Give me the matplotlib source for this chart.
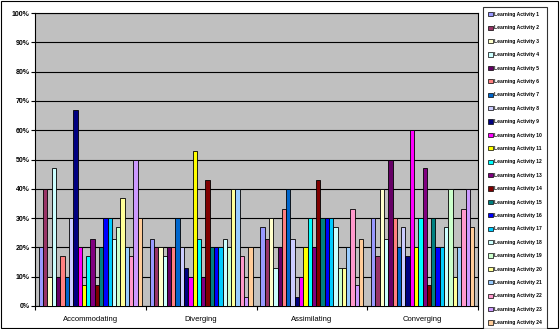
import numpy as np
import matplotlib
matplotlib.use("Agg")
import matplotlib.pyplot as plt
from matplotlib.patches import Patch, Rectangle

categories = ["Accommodating", "Diverging", "Assimilating", "Converging"]
series_names = ["Learning Activity %d" % i for i in range(1, 25)]

# values in % for each activity, order: Accommodating, Diverging, Assimilating, Converging
values = [
    [20, 23, 27, 30],
    [40, 20, 23, 17],
    [10, 20, 30, 40],
    [47, 17, 13, 23],
    [10, 20, 20, 50],
    [17, 20, 33, 30],
    [10, 30, 40, 20],
    [30, 20, 23, 27],
    [67, 13, 3, 17],
    [20, 10, 10, 60],
    [7, 53, 20, 20],
    [17, 23, 30, 30],
    [23, 10, 20, 47],
    [7, 43, 43, 7],
    [20, 20, 30, 30],
    [30, 20, 30, 20],
    [30, 20, 30, 20],
    [23, 23, 27, 27],
    [27, 20, 13, 40],
    [37, 40, 13, 10],
    [20, 40, 20, 20],
    [17, 17, 33, 33],
    [50, 3, 7, 40],
    [30, 20, 23, 27],
]

colors = ["#9999FF", "#993366", "#FFFFCC", "#CCFFFF", "#660066", "#FF8080",
          "#0066CC", "#CCCCFF", "#000080", "#FF00FF", "#FFFF00", "#00FFFF",
          "#800080", "#800000", "#008080", "#0000FF", "#00CCFF", "#CCFFFF",
          "#CCFFCC", "#FFFF99", "#99CCFF", "#FF99CC", "#CC99FF", "#FFCC99"]

fig = plt.figure(figsize=(5.6, 3.29), dpi=100)
W, H = 560, 329
ax = fig.add_axes([35 / W, 1 - 306 / H, (478 - 35) / W, (306 - 13) / H])
ax.set_facecolor("#C0C0C0")

x = np.arange(len(categories))
n = len(series_names)
group = 0.93
bw = group / n
for i in range(n):
    ax.bar(x - group / 2 + bw * (i + 0.5), values[i], width=bw, color=colors[i],
           edgecolor="black", linewidth=0.6, label=series_names[i], zorder=3)

ax.set_xlim(-0.5, len(categories) - 0.5)
ax.set_ylim(0, 100)
ax.set_yticks(np.arange(0, 101, 10))
ax.set_yticklabels(["%d%%" % v for v in range(0, 101, 10)], fontsize=5, fontweight="bold",
                   family="Liberation Sans")
ax.yaxis.grid(True, color="black", linewidth=0.8, zorder=0)
ax.set_xticks(x)
ax.set_xticklabels(categories, fontsize=5.5, family="Liberation Sans")
ax.set_xticks(np.arange(-0.5, len(categories), 1), minor=True)
ax.tick_params(axis="x", which="major", length=0, pad=7)
ax.tick_params(axis="x", which="minor", length=3, width=0.8)
ax.tick_params(axis="y", length=3, width=0.8, pad=1)
for s in ax.spines.values():
    s.set_linewidth(0.8)

handles = [Patch(facecolor=colors[i], edgecolor="black", linewidth=0.5) for i in range(n)]
leg = fig.legend(handles, series_names, loc="upper left",
                 bbox_to_anchor=(483 / W, 1 - 7 / H), frameon=True, fancybox=False,
                 prop={"family": "Liberation Sans", "size": 3.6, "weight": "bold"},
                 handlelength=0.9, handleheight=0.9, handletextpad=0.4,
                 labelspacing=1.68, borderpad=1.0, borderaxespad=0)
leg.get_frame().set_edgecolor("black")
leg.get_frame().set_linewidth(0.8)

fig.patches.append(Rectangle((0.002, 0.003), 0.995, 0.993, transform=fig.transFigure,
                             fill=False, edgecolor="black", linewidth=0.8))

fig.savefig("out.png", dpi=100)
